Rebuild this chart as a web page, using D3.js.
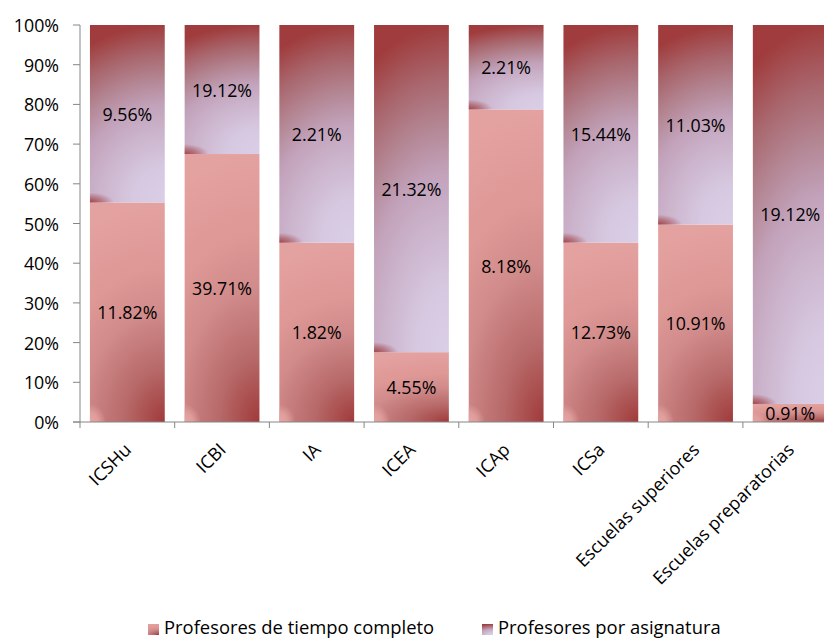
<!DOCTYPE html>
<html>
<head>
<meta charset="utf-8">
<script src="https://cdn.jsdelivr.net/npm/d3@7"></script>
<style>
  html, body { margin: 0; padding: 0; background: #fff; }
  svg { display: block; }
  text { font-family: "Open Sans", Lato, sans-serif; fill: #000; }
</style>
</head>
<body>
<svg id="chart" width="824" height="639"></svg>
<script>
const categories = ["ICSHu", "ICBI", "IA", "ICEA", "ICAp", "ICSa", "Escuelas superiores", "Escuelas preparatorias"];
const tiempoCompleto = [11.82, 39.71, 1.82, 4.55, 8.18, 12.73, 10.91, 0.91];
const porAsignatura = [9.56, 19.12, 2.21, 21.32, 2.21, 15.44, 11.03, 19.12];
const seriesNames = ["Profesores de tiempo completo", "Profesores por asignatura"];
const yTicks = [0, 0.1, 0.2, 0.3, 0.4, 0.5, 0.6, 0.7, 0.8, 0.9, 1.0];

(function () {
const svg = d3.select("#chart");
const mLeft = 80, mTop = 25, mBottom = 422;
const step = 94.7;
const FS = "17.8px";

const x = d3.scaleBand().domain(categories)
  .range([mLeft, mLeft + step * categories.length])
  .paddingInner(0.21).paddingOuter(0.105);
const y = d3.scaleLinear().domain([0, 1]).range([mBottom, mTop]);

// gradients
const defs = svg.append("defs");
function mainGrad(id, stops) {
  const g = defs.append("radialGradient").attr("id", id)
    .attr("cx", 1).attr("cy", 1).attr("r", 1).attr("fx", 1).attr("fy", 1)
    .attr("gradientTransform", "translate(1,1) scale(2.2,1.0) translate(-1,-1)");
  stops.forEach(([o, c]) => g.append("stop").attr("offset", o).attr("stop-color", c));
}
mainGrad("gradTC", [[0, "#a03a3a"], [0.25, "#b86a6a"], [0.5, "#d08b8a"], [0.7, "#de9896"], [1, "#e3a19f"]]);
mainGrad("gradPA", [[0, "#dacee7"], [0.2, "#d6c8e0"], [0.4, "#cbb4cc"], [0.55, "#c2a2ba"], [0.7, "#b38592"], [0.85, "#a8646a"], [1, "#a03c3d"]]);
const fills = ["url(#gradTC)", "url(#gradPA)"];
const cornerColor = ["#e6a6a4", "#9e3a3d"];
const cornerR = [[16, 18], [24, 10]];
const cornerOp = [[1, 0.75, 0], [0.9, 0.5, 0]];

const rows = categories.map((c, i) => {
  const tot = tiempoCompleto[i] + porAsignatura[i];
  return { c, a: tiempoCompleto[i], b: porAsignatura[i], pa: tiempoCompleto[i] / tot };
});

// bars
const bars = svg.append("g");
const labels = svg.append("g");
rows.forEach((r, ri) => {
  const segs = [
    { y0: 0, y1: r.pa, v: r.a, k: 0 },
    { y0: r.pa, y1: 1, v: r.b, k: 1 }
  ];
  segs.forEach(s => {
    const rx = x(r.c), rw = x.bandwidth();
    const ry = y(s.y1), rh = y(s.y0) - y(s.y1);
    bars.append("rect")
      .attr("x", rx).attr("width", rw)
      .attr("y", ry).attr("height", rh)
      .attr("fill", fills[s.k]);
    // corner accent (bottom-left)
    const gid = `corner${ri}_${s.k}`;
    const [crx, cry] = cornerR[s.k];
    const cg = defs.append("radialGradient").attr("id", gid)
      .attr("gradientUnits", "userSpaceOnUse")
      .attr("cx", 0).attr("cy", 0).attr("r", 1)
      .attr("gradientTransform", `translate(${rx},${ry + rh}) scale(${crx},${Math.min(cry, rh * 0.6)})`);
    [0, 0.5, 1].forEach((o, oi) =>
      cg.append("stop").attr("offset", o).attr("stop-color", cornerColor[s.k]).attr("stop-opacity", cornerOp[s.k][oi]));
    bars.append("rect")
      .attr("x", rx).attr("width", rw)
      .attr("y", ry).attr("height", rh)
      .attr("fill", `url(#${gid})`);
    labels.append("text")
      .attr("x", rx + rw / 2)
      .attr("y", ry + rh / 2)
      .attr("text-anchor", "middle")
      .attr("dominant-baseline", "central")
      .style("font-size", FS)
      .text(s.v.toFixed(2) + "%");
  });
});

// axes
const axisColor = "#868686";
const ga = svg.append("g");
ga.append("line").attr("x1", mLeft).attr("x2", mLeft).attr("y1", mTop).attr("y2", mBottom)
  .attr("stroke", axisColor).attr("stroke-width", 1);
ga.append("line").attr("x1", mLeft - 7).attr("x2", mLeft + step * categories.length).attr("y1", mBottom).attr("y2", mBottom)
  .attr("stroke", axisColor).attr("stroke-width", 1);
yTicks.forEach(t => {
  ga.append("line").attr("x1", mLeft - 7).attr("x2", mLeft).attr("y1", y(t)).attr("y2", y(t))
    .attr("stroke", axisColor);
  ga.append("text").attr("x", mLeft - 21).attr("y", y(t))
    .attr("text-anchor", "end").attr("dominant-baseline", "central")
    .style("font-size", FS).text(d3.format(".0%")(t));
});
d3.range(categories.length + 1).forEach(i => {
  const tx = mLeft + i * step;
  ga.append("line").attr("x1", tx).attr("x2", tx).attr("y1", mBottom).attr("y2", mBottom + 6)
    .attr("stroke", axisColor);
});
categories.forEach(c => {
  const cx = x(c) + x.bandwidth() / 2;
  ga.append("text")
    .attr("transform", `translate(${cx + 5},${mBottom + 29}) rotate(-45)`)
    .attr("text-anchor", "end")
    .style("font-size", "18px")
    .text(c);
});

// legend
const lg = svg.append("g");
const legendItems = [{ name: seriesNames[0], x: 148, f: fills[0] }, { name: seriesNames[1], x: 482, f: fills[1] }];
legendItems.forEach(d => {
  lg.append("rect").attr("x", d.x).attr("y", 624).attr("width", 11).attr("height", 11).attr("fill", d.f);
  lg.append("text").attr("x", d.x + 16).attr("y", 634)
    .style("font-size", "18.4px").text(d.name);
});
})();
</script>
</body>
</html>
